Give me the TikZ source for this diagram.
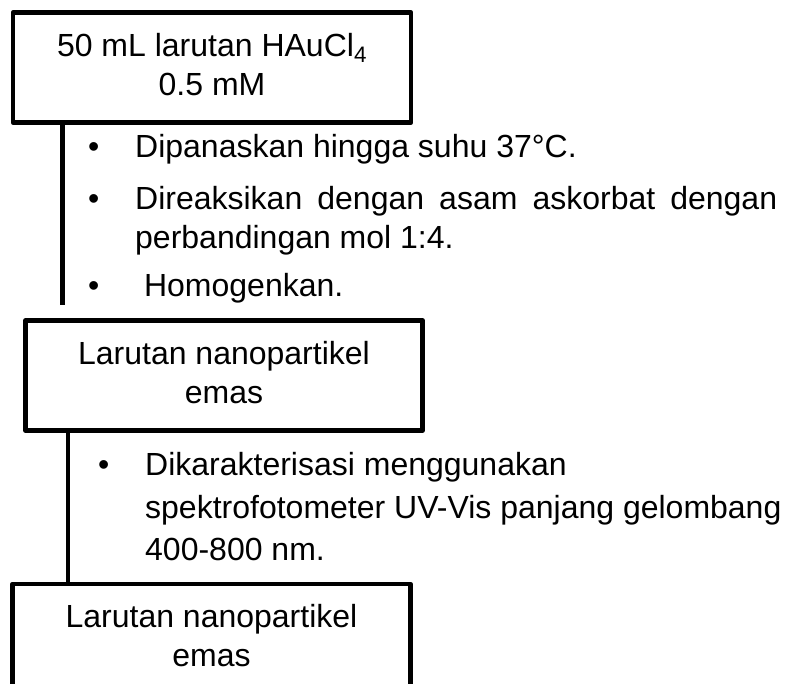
\documentclass[tikz,border=0pt]{standalone}
\usepackage{fontspec}
\setmainfont{Liberation Sans}
\usetikzlibrary{positioning, calc}

\newcommand{\itemdot}{\makebox[47pt][l]{\textbullet}}
\newcommand{\lowstrut}{\rule[-7pt]{0pt}{0pt}}

\begin{document}
\begin{tikzpicture}[x=1pt, y=-1pt,
stage/.style={rectangle, draw=black, line width=4.5pt, line join=round, align=center, minimum height=110pt, inner sep=0pt, outer sep=0pt, anchor=north, font=\fontsize{32}{39}\selectfont},
steplist/.style={anchor=base west, align=left, inner sep=0pt, font=\fontsize{32}{39}\selectfont},
flow/.style={line width=4.5pt, line cap=butt},
]
\useasboundingbox (0,0) rectangle (786,684);

%Nodes
\node [stage, minimum width=398pt] (hauc) at (212,12.5) {50 mL larutan HAuCl\textsubscript{4}\\0.5 mM\lowstrut};
\node [stage, minimum width=397pt] (nano) at (224,320.5) {Larutan nanopartikel\\emas\lowstrut};
\node [stage, minimum width=398pt] (result) at (211.5,584) {Larutan nanopartikel\\emas\lowstrut};

% lists hang from the baseline of their last line
\node [steplist] (heat) at (88,297) {\itemdot Dipanaskan hingga suhu 37°C.\\[13pt]
\itemdot\makebox[642pt][s]{Direaksikan dengan asam askorbat dengan}\\
\hspace*{47pt}perbandingan mol 1:4.\\[9pt]
\itemdot\ Homogenkan.};
\node [steplist] (uvvis) at (98,560) {\itemdot Dikarakterisasi menggunakan\\[4pt]
\hspace*{47pt}spektrofotometer UV-Vis panjang gelombang\\[3pt]
\hspace*{47pt}400-800 nm.};

\coordinate (gap1) at (62.5,305);
\coordinate (gap2) at (68,0);

% Paths
\draw [flow] (hauc.south -| gap1) -- (gap1);
\draw [flow] (nano.south -| gap2) -- (result.north -| gap2);
\end{tikzpicture}
\end{document}
